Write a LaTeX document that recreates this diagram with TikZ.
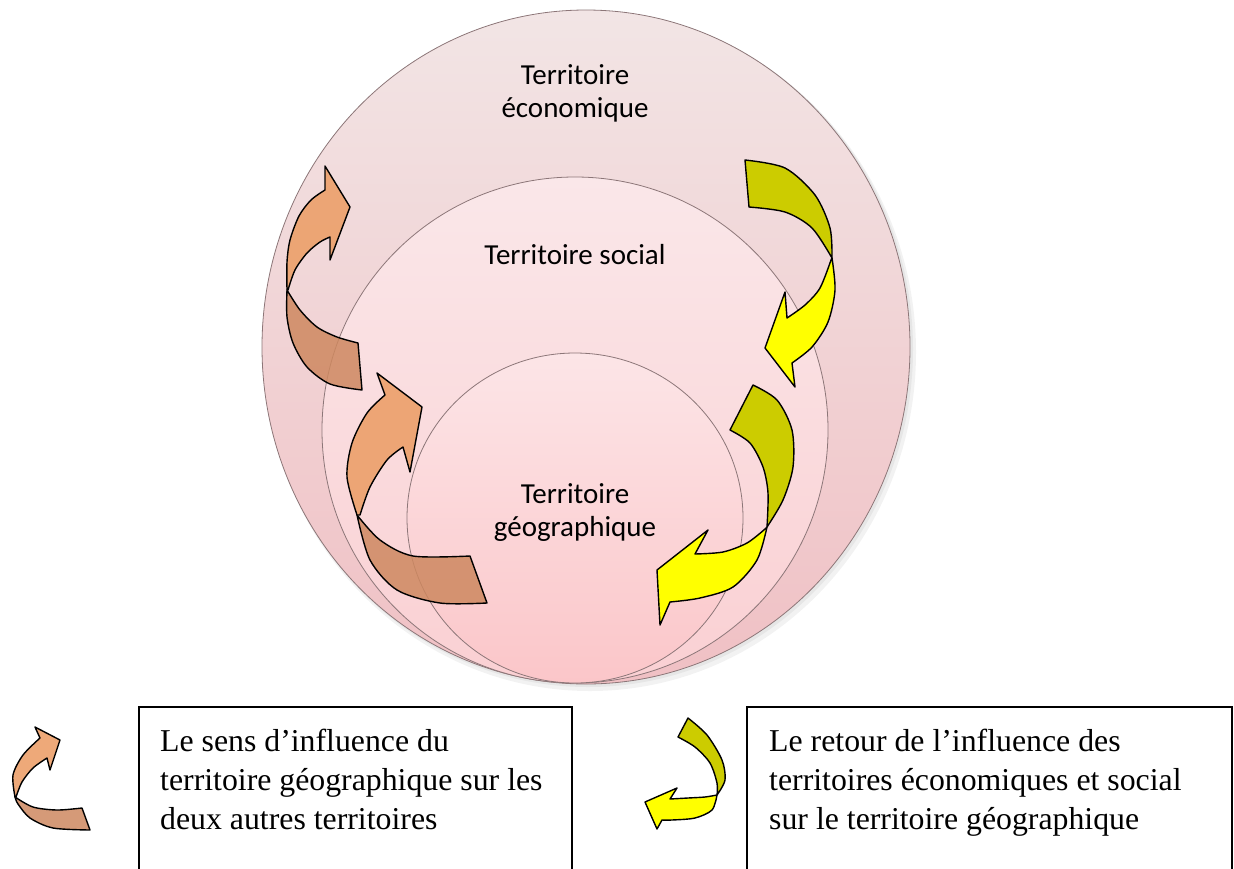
\documentclass[tikz,border=0pt]{standalone}
\usepackage{fontspec}
\setmainfont{Liberation Serif}
\newfontfamily\calfont{Carlito}
\usetikzlibrary{positioning}

\definecolor{ringedge}{RGB}{140,118,120}
\definecolor{ecotop}{RGB}{242,229,229}
\definecolor{ecobot}{RGB}{240,192,196}
\definecolor{soctop}{RGB}{250,231,233}
\definecolor{socbot}{RGB}{250,208,211}
\definecolor{geotop}{RGB}{252,229,231}
\definecolor{geobot}{RGB}{251,198,201}
\definecolor{orhead}{RGB}{236,160,106}
\definecolor{ortail}{RGB}{206,136,96}
\definecolor{yehead}{RGB}{255,255,0}
\definecolor{yetail}{RGB}{204,204,0}

\begin{document}
\begin{tikzpicture}[x=1pt, y=-1pt,
  ring/.style={draw=ringedge, line width=0.8pt},
  lbl/.style={font=\calfont\fontsize{29}{33}\selectfont, align=center, inner sep=0pt},
  legtext/.style={font=\fontsize{31.8}{39}\selectfont, align=left, inner sep=0pt, anchor=north west},
  legbox/.style={draw=black, line width=1.6pt},
  band/.style={draw=black, line width=1.4pt, line join=round},
  orhd/.style={band, fill=orhead, fill opacity=0.9},
  ortl/.style={band, fill=ortail, fill opacity=0.85},
  yehd/.style={band, fill=yehead},
  yetl/.style={band, fill=yetail}]
\useasboundingbox (0,0) rectangle (1234,868);

% soft shadow of the rings
\fill[black, opacity=0.05] (590,352) ellipse [x radius=326, y radius=339];
\fill[black, opacity=0.05] (588,349) ellipse [x radius=325, y radius=338];

% the three territories
\shade[ring, top color=ecotop, bottom color=ecobot] (586,347) ellipse [x radius=324, y radius=337];
\shade[ring, top color=soctop, bottom color=socbot] (575,430) ellipse [x radius=253, y radius=253];
\shade[ring, top color=geotop, bottom color=geobot] (575,518) ellipse [x radius=168, y radius=165];

\node[lbl] (eco) at (575,93) {Territoire\\économique};
\node[lbl] (soc) at (575,255) {Territoire social};
\node[lbl] (geo) at (575,513) {Territoire\\géographique};

% influence of the geographic territory (orange)
\filldraw[ortl] (358,343) -- (362,390)
  -- plot[smooth] coordinates {(362,390) (330,384) (307,367) (293,343) (287,317) (287,290)}
  -- plot[smooth] coordinates {(287,290) (300,310) (317,327) (337,337) (358,343)} -- cycle;
\filldraw[orhd] (287,290)
  -- plot[smooth] coordinates {(287,290) (287,262) (290,240) (299,216) (311,200) (325,190)}
  -- (325,166) -- (350,207) -- (330,260) -- (330,237)
  -- plot[smooth] coordinates {(330,237) (320,242) (307,253) (295,270) (288,290)} -- cycle;

\filldraw[ortl] (470,556) -- (487,603)
  -- plot[smooth] coordinates {(487,603) (440,603) (397,590) (370,560) (357,515)}
  -- plot[smooth] coordinates {(357,515) (380,540) (413,556) (470,556)} -- cycle;
\filldraw[orhd] (357,515)
  -- plot[smooth] coordinates {(357,515) (347,477) (352,443) (367,413) (385,395)}
  -- (377,373) -- (422,407) -- (410,472) -- (403,447)
  -- plot[smooth] coordinates {(403,447) (387,460) (370,487) (360,515)} -- cycle;

% feedback of the economic and social territories (yellow)
\filldraw[yetl] (745,160)
  -- plot[smooth] coordinates {(745,160) (785,168) (815,195) (830,228) (832,258)}
  -- plot[smooth] coordinates {(832,258) (812,228) (785,212) (749,207)} -- cycle;
\filldraw[yehd] (832,258)
  -- plot[smooth] coordinates {(832,258) (835,290) (828,322) (812,347) (792,363)}
  -- (795,387) -- (765,348) -- (785,292) -- (787,318)
  -- plot[smooth] coordinates {(787,318) (805,305) (820,288) (831,260)} -- cycle;

\filldraw[yetl] (753,385)
  -- plot[smooth] coordinates {(753,385) (777,400) (792,430) (793,467) (783,500) (767,527)}
  -- plot[smooth] coordinates {(767,527) (768,493) (763,467) (750,443) (730,430)} -- cycle;
\filldraw[yehd] (767,527)
  -- plot[smooth] coordinates {(767,527) (757,560) (733,587) (700,598) (670,602)}
  -- (660,625) -- (657,570) -- (708,530) -- (695,554)
  -- plot[smooth] coordinates {(695,554) (723,552) (747,543) (765,529)} -- cycle;

% legend
\filldraw[ortl] (82,808) -- (90,830)
  -- plot[smooth] coordinates {(90,830) (53,828) (30,818) (18,804) (15,797)}
  -- plot[smooth] coordinates {(15,797) (33,807) (57,810) (82,808)} -- cycle;
\filldraw[orhd] (15,797)
  -- plot[smooth] coordinates {(15,797) (13,775) (23,755) (40,738)}
  -- (35,727) -- (60,740) -- (50,770) -- (47,758)
  -- plot[smooth] coordinates {(47,758) (33,768) (22,782) (16,797)} -- cycle;

\filldraw[yetl] (688,718)
  -- plot[smooth] coordinates {(688,718) (707,735) (722,760) (725,780) (717,795)}
  -- plot[smooth] coordinates {(717,795) (717,783) (710,763) (695,747) (678,737)} -- cycle;
\filldraw[yehd] (717,795)
  -- plot[smooth] coordinates {(717,795) (712,810) (695,818) (672,820) (662,820)}
  -- (657,829) -- (645,802) -- (677,788) -- (670,799)
  -- plot[smooth] coordinates {(670,799) (688,798) (705,797) (717,795)} -- cycle;

\draw[legbox] (139,900) rectangle (572,707);
\draw[legbox] (747,900) rectangle (1232,707);
\node[legtext] (legor) at (160,729) {Le sens d’influence du\\territoire géographique sur les\\deux autres territoires};
\node[legtext] (legye) at (769,729) {Le retour de l’influence des\\territoires économiques et social\\sur le territoire géographique};
\end{tikzpicture}
\end{document}
